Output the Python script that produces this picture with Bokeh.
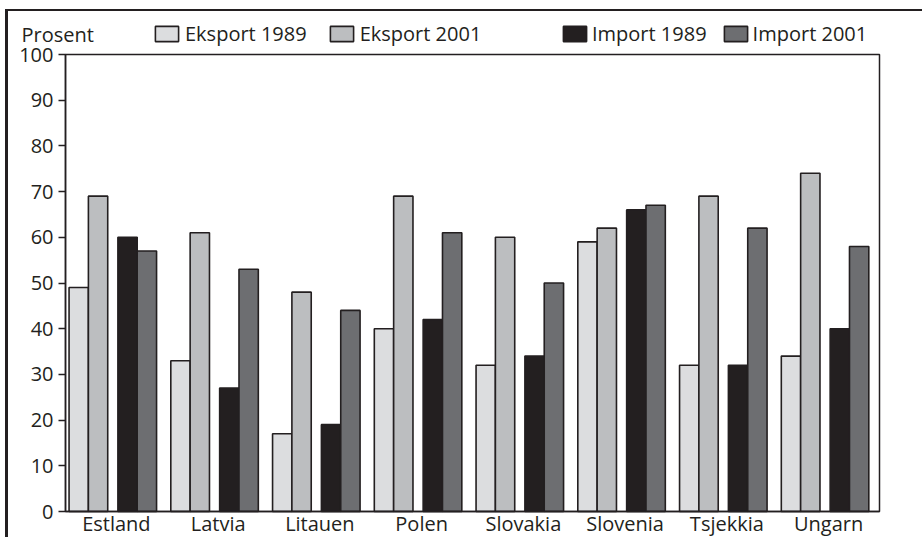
from bokeh.plotting import figure
from bokeh.models import (ColumnDataSource, Legend, LegendItem, Label, FixedTicker,
                          Range1d, BoxAnnotation)
from bokeh.embed import file_html
from bokeh.resources import INLINE

countries = ["Estland", "Latvia", "Litauen", "Polen", "Slovakia", "Slovenia", "Tsjekkia", "Ungarn"]
eksport_1989 = [49, 33, 17, 40, 32, 59, 32, 34]
eksport_2001 = [69, 61, 48, 69, 60, 62, 69, 74]
import_1989 = [60, 27, 19, 42, 34, 66, 32, 40]
import_2001 = [57, 53, 44, 61, 50, 67, 62, 58]
y_ticks = [0, 10, 20, 30, 40, 50, 60, 70, 80, 90, 100]
series_names = ["Eksport 1989", "Eksport 2001", "Import 1989", "Import 2001"]
unit_label = "Prosent"

FONT = "Open Sans"
TXT = "#231f20"
FS = "20px"
COLORS = ["#dcdddf", "#bcbec0", "#231f20", "#6d6e71"]
OFFSETS = [-0.37, -0.18, 0.11, 0.30]
BAR_W = 0.19

# layout (pixels)
PLOT_LEFT_PX = 57      # frame left -> y axis
PLOT_W = 814           # width of the boxed plot area
PLOT_RIGHT_PX = 4      # box right -> frame right
PLOT_TOP_PX = 43       # frame top -> 100 line
PLOT_H = 457           # 0 line -> 100 line
PLOT_BOTTOM_PX = 26    # 0 line -> frame bottom
FRAME_W = PLOT_LEFT_PX + PLOT_W + PLOT_RIGHT_PX
FRAME_H = PLOT_TOP_PX + PLOT_H + PLOT_BOTTOM_PX

n = len(countries)
y_max = y_ticks[-1]
ux = PLOT_W / n
uy = PLOT_H / y_max

centers = [i + 0.5 for i in range(n)]
data = dict(c=centers)
for key, vals, off in zip(["e89", "e01", "i89", "i01"],
                          [eksport_1989, eksport_2001, import_1989, import_2001], OFFSETS):
    data[key] = vals
    data[key + "_x"] = [c + off for c in centers]
src = ColumnDataSource(data)

p = figure(x_range=Range1d(-PLOT_LEFT_PX / ux, n + PLOT_RIGHT_PX / ux),
           y_range=Range1d(-PLOT_BOTTOM_PX / uy, y_max + PLOT_TOP_PX / uy),
           frame_width=FRAME_W, frame_height=FRAME_H,
           min_border_left=0, min_border_top=0, min_border_right=914 - FRAME_W,
           min_border_bottom=0,
           output_backend="svg", toolbar_location=None,
           styles={"margin-left": "5px", "margin-top": "9px",
                   "border-left": "3px solid #231f20", "border-top": "2px solid #231f20"})

rends = []
for key, color in zip(["e89", "e01", "i89", "i01"], COLORS):
    r = p.vbar(x=key + "_x", top=key, width=BAR_W, bottom=0, source=src,
               fill_color=color, line_color=TXT, line_width=1.6)
    rends.append(r)

p.xgrid.visible = False
p.ygrid.visible = False
p.outline_line_color = None

p.add_layout(BoxAnnotation(left=0, right=n, bottom=0, top=y_max, fill_alpha=0,
                           line_color=TXT, line_alpha=1.0, line_width=1.5))

yax = p.yaxis[0]
yax.fixed_location = 0
yax.bounds = (0, y_max)
yax.ticker = FixedTicker(ticks=y_ticks)
yax.minor_tick_line_color = None
yax.major_tick_out = 7
yax.major_tick_in = 0
yax.major_label_standoff = 5

xax = p.xaxis[0]
xax.fixed_location = 0
xax.bounds = (0, n)
xax.ticker = FixedTicker(ticks=centers)
xax.major_label_overrides = {c: name for c, name in zip(centers, countries)}
xax.major_tick_line_color = None
xax.major_tick_out = 0
xax.major_tick_in = 0
xax.minor_tick_line_color = None
xax.major_label_standoff = -2

for ax in (xax, yax):
    ax.axis_line_color = TXT
    ax.axis_line_width = 1.5
    ax.major_label_text_font = FONT
    ax.major_label_text_font_size = FS
    ax.major_label_text_color = TXT
yax.major_tick_line_color = TXT
yax.major_tick_line_width = 1.5

LEG_CENTER = FRAME_H - 23   # px above frame bottom

def mk_legend(names, rs, x, spacing, standoff):
    return Legend(items=[LegendItem(label=nm, renderers=[r]) for nm, r in zip(names, rs)],
                  location=(x, LEG_CENTER - 13), orientation="horizontal",
                  glyph_width=29, glyph_height=19, label_standoff=standoff, spacing=spacing,
                  padding=0, margin=0, border_line_color=None, background_fill_alpha=0,
                  label_text_font=FONT, label_text_font_size=FS, label_text_color=TXT,
                  label_height=19)

p.add_layout(mk_legend(series_names[:2], rends[:2], 144, 20, 4))
p.add_layout(mk_legend(series_names[2:], rends[2:], 552, 14, 3))
p.add_layout(Label(x=13, y=LEG_CENTER, x_units="screen", y_units="screen", text=unit_label,
                   text_font=FONT, text_font_size=FS, text_color=TXT,
                   text_baseline="middle", text_align="left"))

open("out.html", "w").write(file_html(p, INLINE))
